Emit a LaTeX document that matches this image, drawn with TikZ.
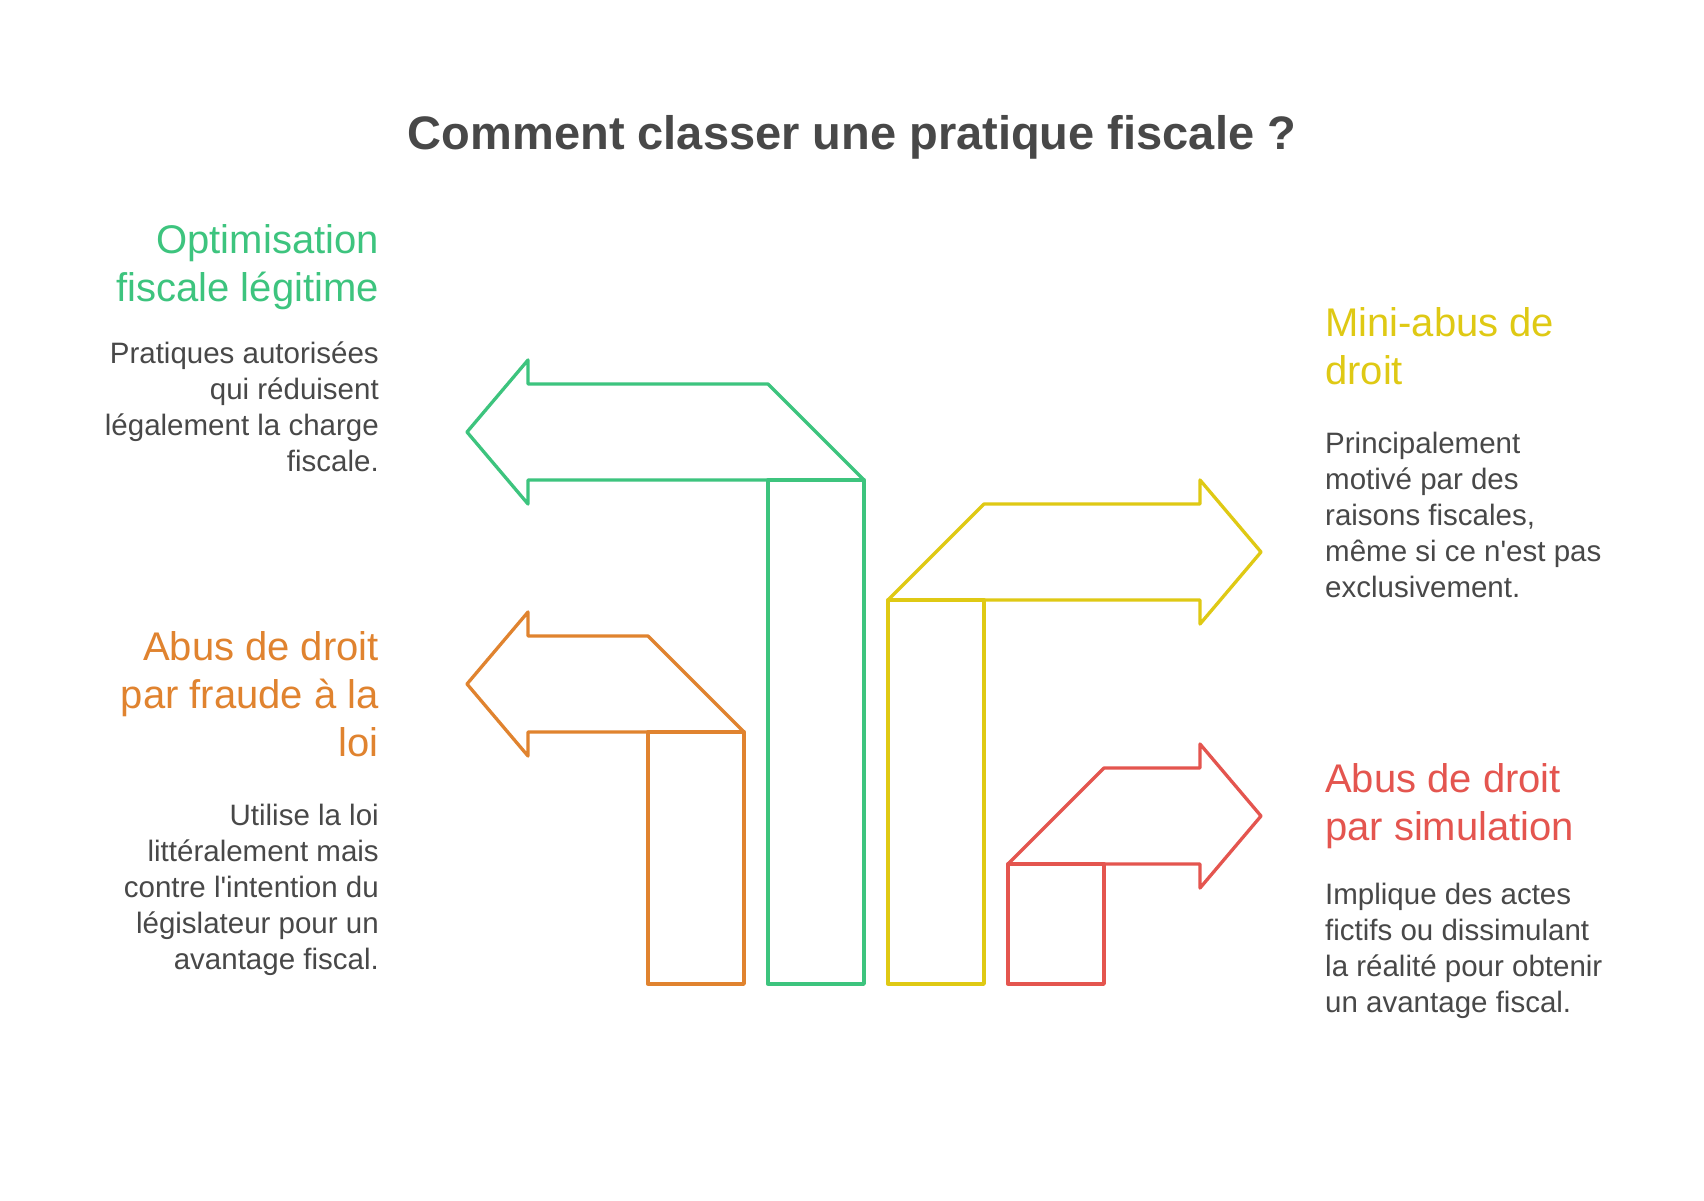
\documentclass[tikz,border=0pt]{standalone}
\usepackage{fontspec}
\setmainfont{Liberation Sans}
\definecolor{cgreen}{HTML}{3DC47E}
\definecolor{corange}{HTML}{E0832F}
\definecolor{cyellow}{HTML}{DFC914}
\definecolor{cred}{HTML}{E4554F}
\definecolor{cgray}{HTML}{484848}
\tikzset{
  shapeline/.style={line width=3.3pt, line join=round, line cap=round},
  headtxt/.style={inner sep=0pt, font=\fontsize{40}{48}\selectfont},
  bodytxt/.style={inner sep=0pt, text=cgray, font=\fontsize{29.5}{36}\selectfont},
  lefttxt/.style={anchor=base east, align=right},
  righttxt/.style={anchor=base west, align=left},
}
\begin{document}
\begin{tikzpicture}[x=1pt, y=-1pt]
\useasboundingbox[fill=white] (0,0) rectangle (1704,1200);

% title
\node[inner sep=0pt, anchor=base, text=cgray, font=\bfseries\fontsize{47}{56}\selectfont] (title) at (852,149) {Comment classer une pratique fiscale ?};

% green arrow
\draw[shapeline, cgreen] (467,432) -- (528,360) -- (528,384) -- (768,384) -- (864,480) -- (528,480) -- (528,504) -- cycle;
\draw[shapeline, cgreen] (768,480) rectangle (864,984);

% orange arrow
\draw[shapeline, corange] (467,684) -- (528,612) -- (528,636) -- (648,636) -- (744,732) -- (528,732) -- (528,756) -- cycle;
\draw[shapeline, corange] (648,732) rectangle (744,984);

% yellow arrow
\draw[shapeline, cyellow] (888,600) -- (984,504) -- (1200,504) -- (1200,480) -- (1261,552) -- (1200,624) -- (1200,600) -- cycle;
\draw[shapeline, cyellow] (888,600) rectangle (984,984);

% red arrow
\draw[shapeline, cred] (1008,864) -- (1104,768) -- (1200,768) -- (1200,744) -- (1261,816) -- (1200,888) -- (1200,864) -- cycle;
\draw[shapeline, cred] (1008,864) rectangle (1104,984);

% left texts (anchored at the baseline of the last line)
\node[headtxt, lefttxt, text=cgreen] (h1) at (379,301) {Optimisation\\fiscale légitime};
\node[bodytxt, lefttxt] (b1) at (379,471) {Pratiques autorisées\\qui réduisent\\légalement la charge\\fiscale.};

\node[headtxt, lefttxt, text=corange] (h2) at (379,756) {Abus de droit\\par fraude à la\\loi};
\node[bodytxt, lefttxt] (b2) at (379,969) {Utilise la loi\\littéralement mais\\contre l\textquotesingle intention du\\législateur pour un\\avantage fiscal.};

% right texts
\node[headtxt, righttxt, text=cyellow] (h3) at (1325,384) {Mini-abus de\\droit};
\node[bodytxt, righttxt] (b3) at (1325,597) {Principalement\\motivé par des\\raisons fiscales,\\même si ce n\textquotesingle est pas\\exclusivement.};

\node[headtxt, righttxt, text=cred] (h4) at (1325,840) {Abus de droit\\par simulation};
\node[bodytxt, righttxt] (b4) at (1325,1012) {Implique des actes\\fictifs ou dissimulant\\la réalité pour obtenir\\un avantage fiscal.};
\end{tikzpicture}
\end{document}
